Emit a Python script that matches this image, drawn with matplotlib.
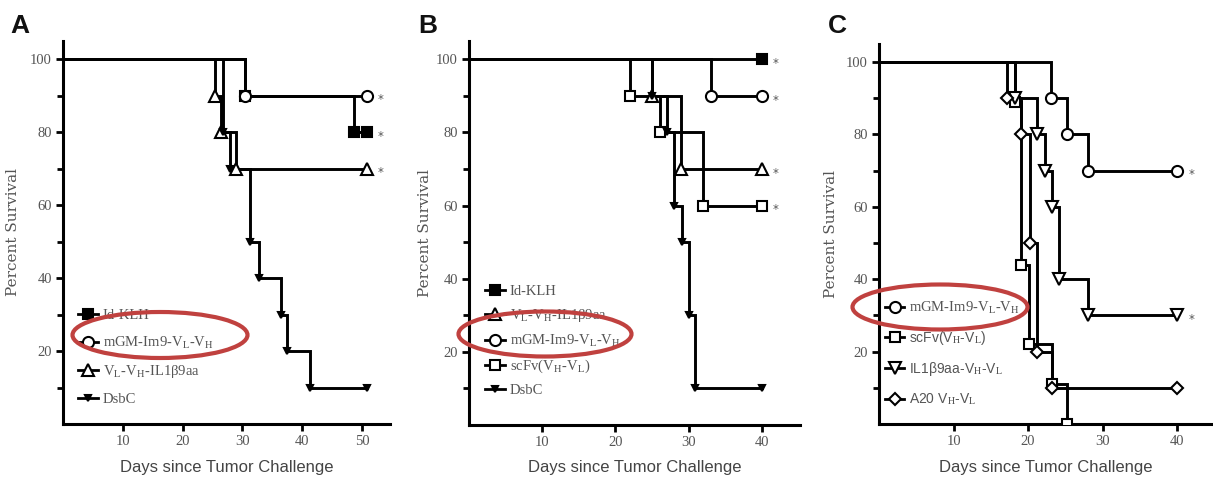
import matplotlib
matplotlib.use("Agg")
import matplotlib.pyplot as plt
from matplotlib.lines import Line2D
from matplotlib.patches import Ellipse

plt.rcParams['mathtext.fontset'] = 'stix'

# ---------------- data (days of each drop, survival % after each drop, last day) -------------
# Panel A
A_idklh_t = [30.4, 48.6]; A_idklh_s = [90, 80]; A_idklh_end = 50.8
A_mgm_t = [30.4]; A_mgm_s = [90]; A_mgm_end = 50.8
A_vlvh_t = [25.4, 26.5, 29.0]; A_vlvh_s = [90, 80, 70]; A_vlvh_end = 50.8
A_dsbc_t = [26.7, 27.9, 31.3, 32.8, 36.5, 37.5, 41.3]; A_dsbc_s = [80, 70, 50, 40, 30, 20, 10]; A_dsbc_end = 50.8
A_labels = ["Id-KLH", r"mGM-Im9-V$_{\mathrm{L}}$-V$_{\mathrm{H}}$",
            r"V$_{\mathrm{L}}$-V$_{\mathrm{H}}$-IL1β9aa", "DsbC"]
A_xticks = [10, 20, 30, 40, 50]

# Panel B
B_idklh_t = []; B_idklh_s = []; B_idklh_end = 40
B_vlvh_t = [25.0, 29.0]; B_vlvh_s = [90, 70]; B_vlvh_end = 40
B_mgm_t = [33.1]; B_mgm_s = [90]; B_mgm_end = 40
B_scfv_t = [22.0, 26.1, 32.0]; B_scfv_s = [90, 80, 60]; B_scfv_end = 40
B_dsbc_t = [25.0, 27.0, 28.0, 29.1, 30.0, 30.9]; B_dsbc_s = [90, 80, 60, 50, 30, 10]; B_dsbc_end = 40
B_labels = ["Id-KLH", r"V$_{\mathrm{L}}$-V$_{\mathrm{H}}$-IL1β9aa",
            r"mGM-Im9-V$_{\mathrm{L}}$-V$_{\mathrm{H}}$", r"scFv(V$_{\mathrm{H}}$-V$_{\mathrm{L}}$)", "DsbC"]
B_xticks = [10, 20, 30, 40]

# Panel C
C_mgm_t = [23.1, 25.2, 28.1]; C_mgm_s = [90, 80, 70]; C_mgm_end = 40
C_scfv_t = [18.3, 19.1, 20.1, 23.2, 25.2]; C_scfv_s = [89, 44, 22, 11, 0]; C_scfv_end = 25.2
C_il_t = [18.3, 21.2, 22.2, 23.2, 24.1, 28.1]; C_il_s = [90, 80, 70, 60, 40, 30]; C_il_end = 40
C_a20_t = [17.2, 19.1, 20.2, 21.2, 23.2]; C_a20_s = [90, 80, 50, 20, 10]; C_a20_end = 40
C_labels = [r"mGM-Im9-V$_{\mathrm{L}}$-V$_{\mathrm{H}}$", r"scFv(V$_{\mathrm{H}}$-V$_{\mathrm{L}}$)",
            r"IL1β9aa-V$_{\mathrm{H}}$-V$_{\mathrm{L}}$", r"A20 V$_{\mathrm{H}}$-V$_{\mathrm{L}}$"]
C_xticks = [10, 20, 30, 40]

y_major = [20, 40, 60, 80, 100]
y_minor = [10, 30, 50, 70, 90]

TXT = '#555555'
SERIF = ['Liberation Serif', 'DejaVu Serif']
SANS = ['Liberation Sans', 'DejaVu Sans']

STY = {
    'sq_f':  dict(marker='s', mfc='black', ms=7),
    'ci_o':  dict(marker='o', mfc='white', ms=8),
    'tr_o':  dict(marker='^', mfc='white', ms=8),
    'dt_f':  dict(marker='v', mfc='black', ms=5),
    'sq_o':  dict(marker='s', mfc='white', ms=7),
    'dt_o':  dict(marker='v', mfc='white', ms=8),
    'di_o':  dict(marker='D', mfc='white', ms=6),
}


def km(ax, times, surv, end, style, star=False):
    xs, ys = [0], [100]
    cur = 100
    for t, s in zip(times, surv):
        xs += [t, t]
        ys += [cur, s]
        cur = s
    last = times[-1] if times else 0
    if end > last:
        xs.append(end)
        ys.append(cur)
    ax.plot(xs, ys, color='black', lw=2.1, zorder=2, solid_joinstyle='miter')
    mx = list(times) + ([end] if end > last else [])
    my = list(surv) + ([cur] if end > last else [])
    ax.plot(mx, my, ls='none', color='black', mec='black', mew=1.5, zorder=3, **style)
    if star:
        ax.annotate('*', (end, cur), xytext=(8, -3), textcoords='offset points',
                    fontsize=8.5, color=TXT, ha='left', va='center')


def style_axes(ax, xmax, xticks):
    ax.set_xlim(0, xmax)
    ax.set_ylim(0, 105)
    for s in ['top', 'right']:
        ax.spines[s].set_visible(False)
    for s in ['left', 'bottom']:
        ax.spines[s].set_linewidth(2.2)
    ax.set_xticks(xticks)
    ax.set_yticks(y_major)
    ax.set_yticks(y_minor, minor=True)
    ax.tick_params(axis='both', which='both', direction='out', width=2, color='black',
                   labelcolor=TXT, labelsize=10.5, pad=3)
    ax.tick_params(axis='both', which='major', length=5)
    ax.tick_params(axis='y', which='minor', length=4)
    for lab in ax.get_xticklabels() + ax.get_yticklabels():
        lab.set_family(SERIF)
    ax.set_ylabel('Percent Survival', family=['DejaVu Serif'], fontsize=11, color=TXT)
    ax.set_xlabel('Days since Tumor Challenge', family=SANS, fontsize=12, color='#444444')


def legend(ax, labels, styles, y_top, spacing, x0=0.03, fam=SERIF, size=10.5):
    handles = [Line2D([0], [0], color='black', lw=2, mec='black', mew=1.5, **STY[s]) for s in styles]
    leg = ax.legend(handles, labels, loc='upper left', bbox_to_anchor=(x0, y_top), frameon=False,
                    handlelength=1.4, handletextpad=0.3, labelspacing=spacing, borderpad=0,
                    borderaxespad=0, prop={'family': fam, 'size': size})
    for t in leg.get_texts():
        t.set_color(TXT)
    return leg


fig = plt.figure(figsize=(12.13, 4.88), dpi=100)
W, H = 1213, 488

def add_ax(l, r, t, b):
    return fig.add_axes([l / W, 1 - b / H, (r - l) / W, (b - t) / H])

# ---- Panel A
axA = add_ax(63, 390, 41, 424)
km(axA, A_idklh_t, A_idklh_s, A_idklh_end, STY['sq_f'], star=True)
km(axA, A_mgm_t, A_mgm_s, A_mgm_end, STY['ci_o'], star=True)
km(axA, A_vlvh_t, A_vlvh_s, A_vlvh_end, STY['tr_o'], star=True)
km(axA, A_dsbc_t, A_dsbc_s, A_dsbc_end, STY['dt_f'])
style_axes(axA, 54.7, A_xticks)
axA.yaxis.set_label_coords(-43 / 327, 0.5)
axA.xaxis.set_label_coords(0.5, -36 / 383)
legend(axA, A_labels, ['sq_f', 'ci_o', 'tr_o', 'dt_f'], 0.30, 0.85, x0=0.045)

# ---- Panel B
axB = add_ax(469, 800, 41, 425)
km(axB, B_idklh_t, B_idklh_s, B_idklh_end, STY['sq_f'], star=True)
km(axB, B_vlvh_t, B_vlvh_s, B_vlvh_end, STY['tr_o'], star=True)
km(axB, B_mgm_t, B_mgm_s, B_mgm_end, STY['ci_o'], star=True)
km(axB, B_scfv_t, B_scfv_s, B_scfv_end, STY['sq_o'], star=True)
km(axB, B_dsbc_t, B_dsbc_s, B_dsbc_end, STY['dt_f'])
style_axes(axB, 45.2, B_xticks)
axB.yaxis.set_label_coords(-37 / 331, 0.5)
axB.xaxis.set_label_coords(0.5, -35 / 384)
legend(axB, B_labels, ['sq_f', 'tr_o', 'ci_o', 'sq_o', 'dt_f'], 0.364, 0.6, x0=0.048)

# ---- Panel C
axC = add_ax(879, 1213, 44, 424)
km(axC, C_mgm_t, C_mgm_s, C_mgm_end, STY['ci_o'], star=True)
km(axC, C_scfv_t, C_scfv_s, C_scfv_end, STY['sq_o'])
km(axC, C_il_t, C_il_s, C_il_end, STY['dt_o'], star=True)
km(axC, C_a20_t, C_a20_s, C_a20_end, STY['di_o'])
style_axes(axC, 44.8, C_xticks)
axC.yaxis.set_label_coords(-41 / 334, 0.5)
axC.xaxis.set_label_coords(0.5, -36 / 380)
legC = legend(axC, C_labels, ['ci_o', 'sq_o', 'dt_o', 'di_o'], 0.327, 0.95, x0=0.018, fam=SANS, size=10)
legC.get_texts()[0].set_family(SERIF)
legC.get_texts()[0].set_size(10.5)

# ---- red highlight ellipses
for cx, cy, w, h in [(160, 335, 175, 46), (545, 334, 173, 45), (940, 307, 175, 45)]:
    fig.patches.append(Ellipse((cx / W, 1 - cy / H), w / W, h / H, transform=fig.transFigure,
                               fill=False, edgecolor='#c0413f', lw=3, zorder=10))

# ---- panel letters
for x, lab in [(10, 'A'), (418, 'B'), (828, 'C')]:
    fig.text(x / W, 1 - 14 / H, lab, family=SANS, fontsize=19, fontweight='bold',
             va='top', ha='left', color='#111111')

fig.savefig('out.png', dpi=100)
